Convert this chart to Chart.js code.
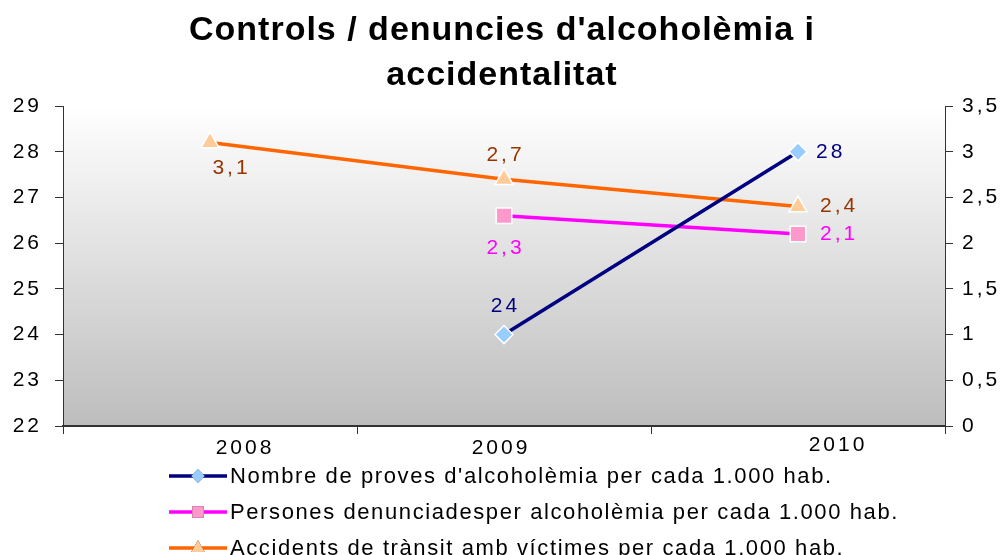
<!DOCTYPE html>
<html>
<head>
<meta charset="utf-8">
<script src="https://cdn.jsdelivr.net/npm/chart.js@4.4.1/dist/chart.umd.min.js"></script>
<style>
    html, body { margin: 0; padding: 0; background: #fff; }
    #wrap { width: 1002px; height: 555px; position: relative; }
</style>
</head>
<body>
<div id="wrap"><canvas id="alcoholChart"></canvas></div>
<script>
// Chart data
const years = ['2008', '2009', '2010'];
const provesData = [null, 24, 28];
const denunciesData = [null, 2.3, 2.1];
const accidentsData = [3.1, 2.7, 2.4];
const seriesNames = [
    "Nombre de proves d'alcoholèmia per cada 1.000 hab.",
    'Persones denunciadesper alcoholèmia per cada 1.000 hab.',
    'Accidents de trànsit amb víctimes per cada 1.000 hab.'
];
const titleLines = ["Controls / denuncies d'alcoholèmia i", 'accidentalitat'];
const leftAxis = { min: 22, max: 29, step: 1 };
const rightAxis = { min: 0, max: 3.5, step: 0.5 };

const FONT = '"Liberation Sans", Arial, sans-serif';

// label placement per dataset / point: [dx, dy, align]
const labelOffsets = [
    [null, [0, -28, 'center'], [18, 0, 'left']],
    [null, [0, 32, 'center'], [22, 0, 'left']],
    [[20, 26, 'center'], [0, -24, 'center'], [22, 0, 'left']]
];
const labelColors = ['#000080', '#FF00FF', '#993300'];
const xLabelOffsets = [[35, 448], [-3, 448], [40, 445]];
const legendRows = [476, 512, 548];

function commaNum(v) {
    return String(v).replace('.', ',');
}

/**
 * Custom drawing: gradient plot area, point labels, title, x labels, legend
 */
const decorPlugin = {
    id: 'decor',
    beforeLayout(chart) {
        chart.ctx.letterSpacing = '3px';
    },
    beforeDraw(chart) {
        const { ctx, chartArea: a } = chart;
        ctx.save();
        const g = ctx.createLinearGradient(0, a.top, 0, a.bottom);
        g.addColorStop(0, '#ffffff');
        g.addColorStop(1, '#bdbdbd');
        ctx.fillStyle = g;
        ctx.fillRect(a.left, a.top, a.right - a.left, a.bottom - a.top);
        ctx.restore();
        ctx.letterSpacing = '3px';
    },
    afterDatasetsDraw(chart) {
        const ctx = chart.ctx;
        ctx.save();
        ctx.font = '21px ' + FONT;
        ctx.letterSpacing = '3px';
        ctx.textBaseline = 'middle';
        chart.data.datasets.forEach((ds, i) => {
            const meta = chart.getDatasetMeta(i);
            meta.data.forEach((pt, j) => {
                const off = labelOffsets[i][j];
                if (ds.data[j] == null || !off) return;
                ctx.fillStyle = labelColors[i];
                ctx.textAlign = off[2];
                const dx = off[2] === 'center' ? off[0] + 1.5 : off[0];
                ctx.fillText(commaNum(ds.data[j]), pt.x + dx, pt.y + off[1]);
            });
        });
        ctx.restore();
    },
    afterDraw(chart) {
        const ctx = chart.ctx;
        const xScale = chart.scales.x;
        ctx.save();

        // Title
        ctx.letterSpacing = '1px';
        ctx.font = 'bold 34px ' + FONT;
        ctx.fillStyle = '#000';
        ctx.textAlign = 'center';
        ctx.textBaseline = 'middle';
        titleLines.forEach((line, i) => ctx.fillText(line, 502, 31 + i * 45));

        // Category labels
        ctx.font = '21px ' + FONT;
        ctx.letterSpacing = '3px';
        years.forEach((y, i) => {
            const px = xScale.getPixelForValue(i);
            ctx.fillText(y, px + xLabelOffsets[i][0], xLabelOffsets[i][1]);
        });

        // Legend
        ctx.font = '22px ' + FONT;
        ctx.letterSpacing = '1.6px';
        ctx.textAlign = 'left';
        chart.data.datasets.forEach((ds, i) => {
            const y = legendRows[i];
            ctx.strokeStyle = ds.borderColor;
            ctx.lineWidth = 3.5;
            ctx.beginPath();
            ctx.moveTo(169, y);
            ctx.lineTo(227, y);
            ctx.stroke();
            Chart.helpers.drawPoint(ctx, {
                pointStyle: ds.pointStyle,
                radius: ds.pointRadius * 0.75,
                rotation: 0,
                borderWidth: 0
            }, 198, y);
            ctx.fillStyle = ds.pointBackgroundColor;
            ctx.fill();
            ctx.fillStyle = '#000';
            ctx.fillText(ds.label, 230, y + 1);
        });
        ctx.restore();
    }
};

function createAlcoholChart() {
    const ctx = document.getElementById('alcoholChart');
    new Chart(ctx, {
        type: 'line',
        data: {
            labels: years,
            datasets: [{
                label: seriesNames[0],
                data: provesData,
                yAxisID: 'y',
                borderColor: '#000080',
                borderWidth: 3.5,
                pointStyle: 'rectRot',
                pointRadius: 9,
                pointBackgroundColor: '#99CCFF',
                pointBorderColor: '#ffffff',
                pointBorderWidth: 1.5
            }, {
                label: seriesNames[1],
                data: denunciesData,
                yAxisID: 'y1',
                borderColor: '#FF00FF',
                borderWidth: 3.5,
                pointStyle: 'rect',
                pointRadius: 11,
                pointBackgroundColor: '#FF99CC',
                pointBorderColor: '#ffffff',
                pointBorderWidth: 1.5
            }, {
                label: seriesNames[2],
                data: accidentsData,
                yAxisID: 'y1',
                borderColor: '#FF6600',
                borderWidth: 3.5,
                pointStyle: 'triangle',
                pointRadius: 10.5,
                pointBackgroundColor: '#FFCC99',
                pointBorderColor: '#ffffff',
                pointBorderWidth: 1.5
            }]
        },
        options: {
            responsive: true,
            maintainAspectRatio: false,
            animation: false,
            layout: { padding: { top: 106, left: 0, right: 0, bottom: 0 } },
            plugins: {
                legend: { display: false },
                title: { display: false },
                tooltip: { enabled: false }
            },
            scales: {
                x: {
                    offset: true,
                    grid: {
                        offset: true,
                        drawOnChartArea: false,
                        drawTicks: true,
                        tickLength: 8,
                        color: '#333'
                    },
                    border: { display: true, color: '#333', width: 2 },
                    ticks: { display: false },
                    afterFit: s => { s.height = 129; }
                },
                y: {
                    position: 'left',
                    min: leftAxis.min,
                    max: leftAxis.max,
                    ticks: {
                        stepSize: leftAxis.step,
                        color: '#000',
                        padding: 13,
                        font: { family: FONT, size: 21 }
                    },
                    grid: { drawOnChartArea: false, tickLength: 8, color: '#333' },
                    border: { display: true, color: '#333', width: 1 },
                    afterFit: s => { s.width = 63; }
                },
                y1: {
                    position: 'right',
                    min: rightAxis.min,
                    max: rightAxis.max,
                    ticks: {
                        stepSize: rightAxis.step,
                        color: '#000',
                        padding: 9,
                        font: { family: FONT, size: 21 },
                        callback: v => commaNum(v)
                    },
                    grid: { drawOnChartArea: false, tickLength: 8, color: '#333' },
                    border: { display: true, color: '#333', width: 1 },
                    afterFit: s => { s.width = 57; }
                }
            }
        },
        plugins: [decorPlugin]
    });
}

createAlcoholChart();
</script>
</body>
</html>
